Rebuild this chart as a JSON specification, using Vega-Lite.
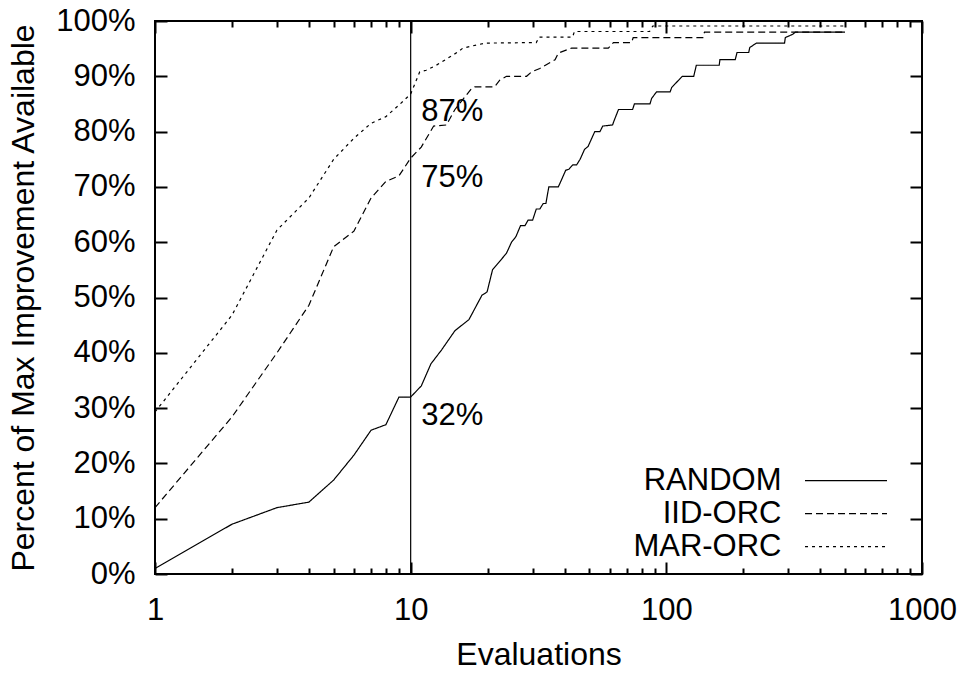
{
  "$schema": "https://vega.github.io/schema/vega-lite/v6.json",
  "width": 767,
  "height": 553,
  "autosize": {"type": "none"},
  "padding": {"left": 155, "top": 21, "right": 44, "bottom": 101},
  "background": "white",
  "config": {
    "view": {"stroke": "black", "strokeWidth": 2},
    "font": "Liberation Sans",
    "axis": {
      "domain": false, "grid": false, "tickColor": "black", "tickWidth": 2,
      "labelFont": "Liberation Sans", "labelFontSize": 31, "labelColor": "black",
      "titleFont": "Liberation Sans", "titleFontSize": 32, "titleColor": "black", "titleFontWeight": "normal",
      "labelFlush": false, "labelOverlap": false, "labelBound": false
    }
  },
  "datasets": {
    "curves": [
      {"series": "RANDOM", "evaluations": 1, "percent": 1},
      {"series": "RANDOM", "evaluations": 2, "percent": 9},
      {"series": "RANDOM", "evaluations": 3, "percent": 12},
      {"series": "RANDOM", "evaluations": 4, "percent": 13},
      {"series": "RANDOM", "evaluations": 5, "percent": 17},
      {"series": "RANDOM", "evaluations": 6, "percent": 21.5},
      {"series": "RANDOM", "evaluations": 7, "percent": 26},
      {"series": "RANDOM", "evaluations": 8, "percent": 27},
      {"series": "RANDOM", "evaluations": 9, "percent": 32},
      {"series": "RANDOM", "evaluations": 10, "percent": 32},
      {"series": "RANDOM", "evaluations": 11, "percent": 34},
      {"series": "RANDOM", "evaluations": 12, "percent": 38},
      {"series": "RANDOM", "evaluations": 13.2, "percent": 40.5},
      {"series": "RANDOM", "evaluations": 14.9, "percent": 44},
      {"series": "RANDOM", "evaluations": 16.9, "percent": 46},
      {"series": "RANDOM", "evaluations": 19, "percent": 50.4},
      {"series": "RANDOM", "evaluations": 19.9, "percent": 51},
      {"series": "RANDOM", "evaluations": 20.9, "percent": 55},
      {"series": "RANDOM", "evaluations": 23.7, "percent": 58},
      {"series": "RANDOM", "evaluations": 24.8, "percent": 60},
      {"series": "RANDOM", "evaluations": 25.8, "percent": 61},
      {"series": "RANDOM", "evaluations": 26.9, "percent": 63},
      {"series": "RANDOM", "evaluations": 28, "percent": 63},
      {"series": "RANDOM", "evaluations": 28.8, "percent": 64},
      {"series": "RANDOM", "evaluations": 30, "percent": 64},
      {"series": "RANDOM", "evaluations": 31, "percent": 66},
      {"series": "RANDOM", "evaluations": 32, "percent": 66},
      {"series": "RANDOM", "evaluations": 33, "percent": 67},
      {"series": "RANDOM", "evaluations": 33.8, "percent": 67},
      {"series": "RANDOM", "evaluations": 34.7, "percent": 70},
      {"series": "RANDOM", "evaluations": 37.8, "percent": 70},
      {"series": "RANDOM", "evaluations": 39, "percent": 71.4},
      {"series": "RANDOM", "evaluations": 40.4, "percent": 73},
      {"series": "RANDOM", "evaluations": 41.6, "percent": 73.2},
      {"series": "RANDOM", "evaluations": 43.1, "percent": 74},
      {"series": "RANDOM", "evaluations": 44.6, "percent": 74},
      {"series": "RANDOM", "evaluations": 46, "percent": 75},
      {"series": "RANDOM", "evaluations": 47.9, "percent": 76.8},
      {"series": "RANDOM", "evaluations": 49.4, "percent": 77.3},
      {"series": "RANDOM", "evaluations": 52.5, "percent": 80},
      {"series": "RANDOM", "evaluations": 55, "percent": 80},
      {"series": "RANDOM", "evaluations": 56.4, "percent": 81},
      {"series": "RANDOM", "evaluations": 61.6, "percent": 81.2},
      {"series": "RANDOM", "evaluations": 62.5, "percent": 82},
      {"series": "RANDOM", "evaluations": 65, "percent": 84},
      {"series": "RANDOM", "evaluations": 73.8, "percent": 84},
      {"series": "RANDOM", "evaluations": 75, "percent": 85},
      {"series": "RANDOM", "evaluations": 86.3, "percent": 85},
      {"series": "RANDOM", "evaluations": 87.6, "percent": 86},
      {"series": "RANDOM", "evaluations": 91.6, "percent": 87.2},
      {"series": "RANDOM", "evaluations": 103.5, "percent": 87.2},
      {"series": "RANDOM", "evaluations": 105, "percent": 88},
      {"series": "RANDOM", "evaluations": 115.5, "percent": 90},
      {"series": "RANDOM", "evaluations": 128, "percent": 90},
      {"series": "RANDOM", "evaluations": 131, "percent": 92},
      {"series": "RANDOM", "evaluations": 161, "percent": 92},
      {"series": "RANDOM", "evaluations": 162, "percent": 93},
      {"series": "RANDOM", "evaluations": 186, "percent": 93},
      {"series": "RANDOM", "evaluations": 189, "percent": 94.3},
      {"series": "RANDOM", "evaluations": 210, "percent": 94.3},
      {"series": "RANDOM", "evaluations": 212, "percent": 95.2},
      {"series": "RANDOM", "evaluations": 225, "percent": 96},
      {"series": "RANDOM", "evaluations": 290, "percent": 96},
      {"series": "RANDOM", "evaluations": 292, "percent": 97},
      {"series": "RANDOM", "evaluations": 312, "percent": 97.6},
      {"series": "RANDOM", "evaluations": 320, "percent": 98},
      {"series": "RANDOM", "evaluations": 500, "percent": 98},
      {"series": "IID-ORC", "evaluations": 1, "percent": 12},
      {"series": "IID-ORC", "evaluations": 2, "percent": 28.4},
      {"series": "IID-ORC", "evaluations": 3, "percent": 40},
      {"series": "IID-ORC", "evaluations": 4, "percent": 48.6},
      {"series": "IID-ORC", "evaluations": 5, "percent": 59.2},
      {"series": "IID-ORC", "evaluations": 6, "percent": 62},
      {"series": "IID-ORC", "evaluations": 7, "percent": 68},
      {"series": "IID-ORC", "evaluations": 8, "percent": 71},
      {"series": "IID-ORC", "evaluations": 9, "percent": 72},
      {"series": "IID-ORC", "evaluations": 10, "percent": 75.2},
      {"series": "IID-ORC", "evaluations": 11, "percent": 77.2},
      {"series": "IID-ORC", "evaluations": 12.3, "percent": 81},
      {"series": "IID-ORC", "evaluations": 13.8, "percent": 81.2},
      {"series": "IID-ORC", "evaluations": 14.9, "percent": 84},
      {"series": "IID-ORC", "evaluations": 17.3, "percent": 87.8},
      {"series": "IID-ORC", "evaluations": 17.8, "percent": 88.1},
      {"series": "IID-ORC", "evaluations": 21.3, "percent": 88.1},
      {"series": "IID-ORC", "evaluations": 22.3, "percent": 89.3},
      {"series": "IID-ORC", "evaluations": 23.7, "percent": 90},
      {"series": "IID-ORC", "evaluations": 28.4, "percent": 90},
      {"series": "IID-ORC", "evaluations": 29.7, "percent": 90.8},
      {"series": "IID-ORC", "evaluations": 32, "percent": 91.4},
      {"series": "IID-ORC", "evaluations": 36.7, "percent": 93},
      {"series": "IID-ORC", "evaluations": 37.8, "percent": 94.2},
      {"series": "IID-ORC", "evaluations": 42.6, "percent": 95.1},
      {"series": "IID-ORC", "evaluations": 59.3, "percent": 95.1},
      {"series": "IID-ORC", "evaluations": 62.1, "percent": 96.1},
      {"series": "IID-ORC", "evaluations": 73.1, "percent": 96.1},
      {"series": "IID-ORC", "evaluations": 74.2, "percent": 97},
      {"series": "IID-ORC", "evaluations": 139, "percent": 97},
      {"series": "IID-ORC", "evaluations": 141, "percent": 98},
      {"series": "IID-ORC", "evaluations": 500, "percent": 98},
      {"series": "MAR-ORC", "evaluations": 1, "percent": 29.3},
      {"series": "MAR-ORC", "evaluations": 2, "percent": 46.8},
      {"series": "MAR-ORC", "evaluations": 3, "percent": 62.2},
      {"series": "MAR-ORC", "evaluations": 4, "percent": 68},
      {"series": "MAR-ORC", "evaluations": 5, "percent": 75},
      {"series": "MAR-ORC", "evaluations": 6, "percent": 78.8},
      {"series": "MAR-ORC", "evaluations": 7, "percent": 81.5},
      {"series": "MAR-ORC", "evaluations": 8, "percent": 82.7},
      {"series": "MAR-ORC", "evaluations": 9, "percent": 84.8},
      {"series": "MAR-ORC", "evaluations": 10, "percent": 86.8},
      {"series": "MAR-ORC", "evaluations": 10.85, "percent": 90.8},
      {"series": "MAR-ORC", "evaluations": 11.5, "percent": 91.1},
      {"series": "MAR-ORC", "evaluations": 12.6, "percent": 92},
      {"series": "MAR-ORC", "evaluations": 15.3, "percent": 94.4},
      {"series": "MAR-ORC", "evaluations": 16, "percent": 95.1},
      {"series": "MAR-ORC", "evaluations": 19.5, "percent": 96},
      {"series": "MAR-ORC", "evaluations": 31, "percent": 96.1},
      {"series": "MAR-ORC", "evaluations": 31.8, "percent": 97.1},
      {"series": "MAR-ORC", "evaluations": 43, "percent": 97.1},
      {"series": "MAR-ORC", "evaluations": 43.7, "percent": 98.1},
      {"series": "MAR-ORC", "evaluations": 86, "percent": 98.1},
      {"series": "MAR-ORC", "evaluations": 88.5, "percent": 99.1},
      {"series": "MAR-ORC", "evaluations": 500, "percent": 99.1}
    ],
    "marker": [{"evaluations": 10}],
    "notes": [
      {"group": "upper", "evaluations": 11, "percent": 82, "label": "87%"},
      {"group": "upper", "evaluations": 11, "percent": 70, "label": "75%"},
      {"group": "lower", "evaluations": 11, "percent": 27, "label": "32%"}
    ]
  },
  "layer": [
    {
      "data": {"name": "curves"},
      "mark": {"type": "line", "color": "black", "strokeWidth": 1.2},
      "encoding": {
        "x": {
          "field": "evaluations", "type": "quantitative",
          "scale": {"type": "log", "domain": [1, 1000], "nice": false},
          "axis": {
            "orient": "bottom", "values": [1, 10, 100, 1000], "format": "d",
            "offset": -12, "tickSize": 12, "labelPadding": 21,
            "title": "Evaluations", "titleX": 383.5, "titleY": 102,
            "titleBaseline": "alphabetic", "titleAlign": "center", "titleAnchor": null
          }
        },
        "y": {
          "field": "percent", "type": "quantitative",
          "scale": {"domain": [0, 100], "nice": false},
          "axis": {
            "orient": "left", "values": [0, 10, 20, 30, 40, 50, 60, 70, 80, 90, 100],
            "labelExpr": "datum.value + '%'",
            "offset": -12, "tickSize": 12, "labelPadding": 20,
            "title": "Percent of Max Improvement Available",
            "titleX": -134, "titleY": 276.5, "titleAngle": -90,
            "titleBaseline": "alphabetic", "titleAlign": "center"
          }
        },
        "strokeDash": {
          "field": "series", "type": "nominal",
          "scale": {"domain": ["RANDOM", "IID-ORC", "MAR-ORC"], "range": [[1, 0], [7, 4], [3, 4]]},
          "legend": {
            "title": null, "orient": "none", "legendX": 675.5, "legendY": 444.2,
            "symbolType": "M-4,0H4", "symbolSize": 420, "symbolStrokeWidth": 1.2,
            "symbolStrokeColor": "black", "symbolFillColor": "transparent",
            "labelAlign": "right", "labelBaseline": "middle", "labelOffset": -80,
            "labelFont": "Liberation Sans", "labelFontSize": 31, "labelColor": "black",
            "labelLimit": 400, "rowPadding": 1, "padding": 0
          }
        }
      }
    },
    {
      "data": {"name": "marker"},
      "mark": {"type": "rule", "color": "black", "strokeWidth": 1.2},
      "encoding": {
        "x": {
          "field": "evaluations", "type": "quantitative",
          "scale": {"type": "log", "domain": [1, 1000], "nice": false},
          "axis": {
            "orient": "bottom",
            "values": [2, 3, 4, 5, 6, 7, 8, 9, 20, 30, 40, 50, 60, 70, 80, 90, 200, 300, 400, 500, 600, 700, 800, 900],
            "offset": -6, "tickSize": 6, "labels": false, "title": null
          }
        }
      }
    },
    {
      "data": {"name": "notes"},
      "transform": [{"filter": "datum.group === 'upper'"}],
      "mark": {"type": "text", "align": "left", "baseline": "alphabetic", "font": "Liberation Sans", "fontSize": 31, "color": "black"},
      "encoding": {
        "x": {
          "field": "evaluations", "type": "quantitative",
          "scale": {"type": "log", "domain": [1, 1000], "nice": false},
          "axis": {"orient": "top", "values": [1, 10, 100, 1000], "offset": -12, "tickSize": 12, "labels": false, "title": null}
        },
        "y": {
          "field": "percent", "type": "quantitative",
          "scale": {"domain": [0, 100], "nice": false},
          "axis": {"orient": "right", "values": [0, 10, 20, 30, 40, 50, 60, 70, 80, 90, 100], "offset": -12, "tickSize": 12, "labels": false, "title": null}
        },
        "text": {"field": "label", "type": "nominal"}
      }
    },
    {
      "data": {"name": "notes"},
      "transform": [{"filter": "datum.group === 'lower'"}],
      "mark": {"type": "text", "align": "left", "baseline": "alphabetic", "font": "Liberation Sans", "fontSize": 31, "color": "black"},
      "encoding": {
        "x": {
          "field": "evaluations", "type": "quantitative",
          "scale": {"type": "log", "domain": [1, 1000], "nice": false},
          "axis": {
            "orient": "top",
            "values": [2, 3, 4, 5, 6, 7, 8, 9, 20, 30, 40, 50, 60, 70, 80, 90, 200, 300, 400, 500, 600, 700, 800, 900],
            "offset": -6, "tickSize": 6, "labels": false, "title": null
          }
        },
        "y": {
          "field": "percent", "type": "quantitative",
          "scale": {"domain": [0, 100], "nice": false},
          "axis": null
        },
        "text": {"field": "label", "type": "nominal"}
      }
    }
  ],
  "resolve": {"axis": {"x": "independent", "y": "independent"}}
}
